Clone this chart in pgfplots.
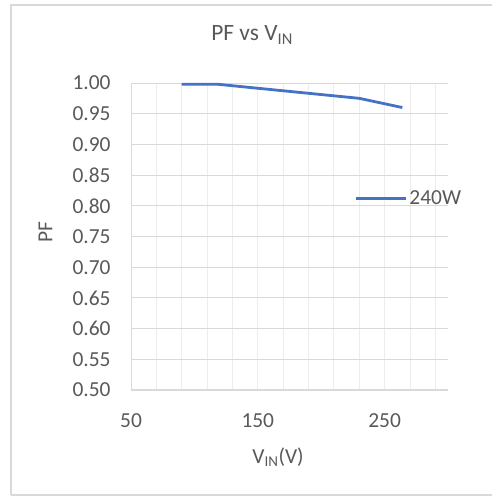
\documentclass[border=0pt]{standalone}
\usepackage{pgfplots}
\pgfplotsset{compat=1.18}
\usepackage{fontspec}
\setmainfont{Carlito}
\definecolor{txt}{HTML}{595959}
\definecolor{ln}{HTML}{4472C4}
\definecolor{gridh}{HTML}{D9D9D9}
\definecolor{gridv}{HTML}{EDEDED}
\begin{document}
\begin{tikzpicture}[x=1bp,y=1bp]
\path[use as bounding box] (0,0) rectangle (492,496);
\draw[color=gridh,line width=1.5bp] (11,1) -- (11,491) -- (492,491);
\draw[color=gridh,line width=1.5bp] (11,1) -- (492,1);
\begin{axis}[
  at={(131bp,106bp)}, anchor=south west,
  scale only axis, width=317bp, height=307bp,
  xmin=50, xmax=300, ymin=0.5, ymax=1.0,
  xtick={50,150,250},
  minor xtick={70,90,110,130,170,190,210,230,270,290},
  ytick={0.5,0.55,0.6,0.65,0.7,0.75,0.8,0.85,0.9,0.95,1.0},
  xmajorgrids, xminorgrids, ymajorgrids,
  major x grid style={color=gridv, line width=0.9bp},
  minor x grid style={color=gridv, line width=0.9bp},
  major y grid style={color=gridh, line width=0.9bp},
  axis x line*=bottom, axis y line*=left,
  axis line style={draw=gridh, line width=1bp, -},
  major tick length=0pt, minor tick length=0pt,
  tick label style={font=\fontsize{21.5}{25}\selectfont, text=txt},
  /pgf/number format/assume math mode=true,
  yticklabel style={/pgf/number format/fixed, /pgf/number format/fixed zerofill, /pgf/number format/precision=2, xshift=-17bp},
  xticklabel style={yshift=-20bp},
  title={PF vs V\textsubscript{IN}},
  title style={font=\fontsize{23.5}{28}\selectfont, text=txt, at={(axis description cs:0.382,1)}, anchor=center, yshift=42bp},
  xlabel={V\textsubscript{IN}(V)},
  xlabel style={font=\fontsize{21.5}{25}\selectfont, text=txt, at={(axis description cs:0.464,0)}, anchor=center, yshift=-67bp},
  ylabel={PF},
  ylabel style={font=\fontsize{21.5}{25}\selectfont, text=txt, at={(axis description cs:-0.27,0.515)}, anchor=center},
  legend style={draw=none, fill=none, at={(axis description cs:0.705,0.625)}, anchor=west, font=\fontsize{21.5}{25}\selectfont, text=txt, inner sep=0pt},
  legend image code/.code={\draw[#1] (0bp,0bp) -- (50bp,0bp);},
]
\addplot[color=ln, line width=2.8bp, line join=round] coordinates {
(90,0.998) (118,0.998) (230,0.975) (264,0.960)
};
\addlegendentry{240W}
\end{axis}
\end{tikzpicture}
\end{document}
